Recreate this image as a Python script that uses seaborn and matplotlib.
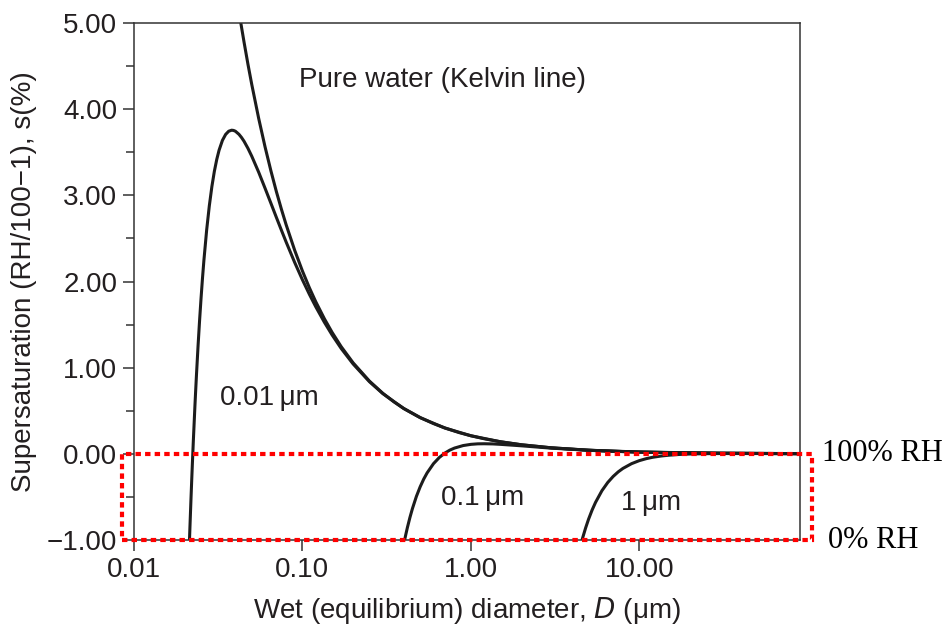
import matplotlib
matplotlib.use("Agg")
import matplotlib.pyplot as plt
import seaborn as sns
import pandas as pd
from matplotlib.patches import Rectangle
from matplotlib.transforms import blended_transform_factory
from matplotlib.ticker import NullLocator, FixedLocator, MultipleLocator

# ---- data (diameter in um, supersaturation in %) ----
kelvin_d = [0.042, 0.045, 0.0475, 0.05, 0.055, 0.06, 0.065, 0.07, 0.075, 0.08, 0.09,
            0.1, 0.11, 0.12, 0.135, 0.15, 0.17, 0.2, 0.25, 0.3, 0.35, 0.4, 0.5, 0.6,
            0.7, 0.85, 1.0, 1.2, 1.5, 2.0, 3.0, 5.0, 7.0, 10.0, 14.0, 20.0, 30.0, 50.0, 90.0]
kelvin_s = [5.127, 4.78, 4.520, 4.289, 3.892, 3.562, 3.284, 3.045, 2.840, 2.660, 2.361,
            2.122, 1.927, 1.765, 1.568, 1.410, 1.243, 1.056, 0.844, 0.703, 0.602, 0.526,
            0.421, 0.351, 0.301, 0.247, 0.210, 0.175, 0.140, 0.105, 0.070, 0.042, 0.030,
            0.021, 0.015, 0.0105, 0.007, 0.0042, 0.0023]

d001_d = [0.021, 0.0212, 0.0215, 0.0218, 0.022, 0.0222, 0.0225, 0.023, 0.0232, 0.0235,
          0.024, 0.0245, 0.025, 0.0255, 0.026, 0.027, 0.028, 0.029, 0.03, 0.031, 0.032,
          0.0335, 0.035, 0.0365, 0.038, 0.039, 0.04, 0.042, 0.0435, 0.045, 0.0475, 0.05,
          0.055, 0.06, 0.065, 0.07, 0.075, 0.08, 0.09, 0.1, 0.11, 0.12, 0.135, 0.15, 0.17,
          0.2, 0.25, 0.3, 0.4, 0.5, 0.7, 1.0, 1.5, 2.0, 3.0, 5.0, 10.0, 30.0, 90.0]
d001_s = [-1.417, -1.175, -0.834, -0.516, -0.316, -0.126, 0.145, 0.556, 0.707, 0.922,
          1.249, 1.541, 1.802, 2.036, 2.244, 2.597, 2.878, 3.102, 3.279, 3.417, 3.524,
          3.638, 3.707, 3.744, 3.756, 3.753, 3.744, 3.708, 3.671, 3.628, 3.545, 3.455,
          3.268, 3.082, 2.908, 2.745, 2.596, 2.459, 2.220, 2.020, 1.851, 1.707, 1.527,
          1.380, 1.222, 1.043, 0.837, 0.699, 0.525, 0.420, 0.300, 0.210, 0.140, 0.105,
          0.070, 0.042, 0.021, 0.007, 0.0023]

d01_d = [0.39, 0.40, 0.41, 0.42, 0.435, 0.45, 0.475, 0.5, 0.525, 0.55, 0.6, 0.65, 0.7,
         0.75, 0.8, 0.9, 1.0, 1.1, 1.2, 1.35, 1.5, 1.75, 2.0, 2.5, 3.0, 5.0, 7.0, 10.0,
         30.0, 90.0]
d01_s = [-1.155, -1.044, -0.945, -0.855, -0.737, -0.635, -0.494, -0.383, -0.293, -0.221,
         -0.114, -0.042, 0.008, 0.043, 0.067, 0.096, 0.110, 0.116, 0.117, 0.115, 0.110,
         0.101, 0.093, 0.078, 0.066, 0.041, 0.0297, 0.020, 0.007, 0.0023]

d1_d = [4.5, 4.6, 4.8, 5.0, 5.25, 5.5, 6.0, 6.5, 7.0, 7.5, 8.0, 9.0, 10.0, 11.0, 12.0,
        13.5, 15.0, 17.0, 20.0, 25.0, 30.0, 50.0, 90.0]
d1_s = [-1.051, -0.982, -0.861, -0.758, -0.651, -0.563, -0.428, -0.332, -0.262, -0.209,
        -0.169, -0.114, -0.079, -0.056, -0.040, -0.025, -0.016, -0.008, -0.002, 0.002,
        0.0033, 0.0034, 0.0022]

x_ticks = [0.01, 0.1, 1.0, 10.0]
x_tick_labels = ["0.01", "0.10", "1.00", "10.00"]
y_ticks = [-1, 0, 1, 2, 3, 4, 5]
y_tick_labels = ["\u22121.00", "0.00", "1.00", "2.00", "3.00", "4.00", "5.00"]

# ---- style ----
sns.set_style("ticks")
plt.rcParams["font.family"] = ["Liberation Sans", "DejaVu Sans"]
TXT = "#231f20"
FS = 20

fig = plt.figure(figsize=(9.49, 6.30), dpi=100)
ax = fig.add_axes([134 / 949, 1 - 540 / 630, 666 / 949, 517 / 630])

curves = [(kelvin_d, kelvin_s), (d001_d, d001_s), (d01_d, d01_s), (d1_d, d1_s)]
for dd, ss in curves:
    df = pd.DataFrame({"D": dd, "s": ss})
    sns.lineplot(data=df, x="D", y="s", ax=ax, color="#1c1c1c", lw=2.2,
                 estimator=None, sort=True, legend=False)

ax.set_xscale("log")
ax.set_xlim(0.01, 90)
ax.set_ylim(-1, 5)
ax.xaxis.set_major_locator(FixedLocator(x_ticks))
ax.xaxis.set_minor_locator(NullLocator())
ax.set_xticklabels(x_tick_labels)
ax.yaxis.set_major_locator(FixedLocator(y_ticks))
ax.set_yticklabels(y_tick_labels)
ax.yaxis.set_minor_locator(MultipleLocator(0.5))

ax.tick_params(axis="both", which="major", direction="out", length=8, width=1.1,
               color="#333333", labelsize=FS, labelcolor=TXT, pad=4)
ax.tick_params(axis="y", which="minor", direction="out", length=5.5, width=1.1,
               color="#333333")
for sp in ax.spines.values():
    sp.set_visible(True)
    sp.set_linewidth(1.1)
    sp.set_color("#333333")

ax.set_xlabel("Wet (equilibrium) diameter, $\\mathit{D}$ (\u03bcm)", fontsize=FS,
              color=TXT, labelpad=9)
ax.set_ylabel("Supersaturation (RH/100\u22121), s(%)", fontsize=FS, color=TXT,
              labelpad=7)

ax.text(0.096, 4.34, "Pure water (Kelvin line)", fontsize=FS, color=TXT,
        ha="left", va="center")
ax.text(0.0323, 0.65, "0.01\u2009\u03bcm", fontsize=FS, color=TXT, ha="left", va="center")
ax.text(0.665, -0.51, "0.1\u2009\u03bcm", fontsize=FS, color=TXT, ha="left", va="center")
ax.text(7.8, -0.57, "1\u2009\u03bcm", fontsize=FS, color=TXT, ha="left", va="center")

trans = blended_transform_factory(ax.transAxes, ax.transData)
rect = Rectangle((-0.018, -1.0), 1.036, 1.0, fill=False, edgecolor="#ff0000",
                 lw=3.0, linestyle=(0, (1.3, 1.0)), transform=trans,
                 clip_on=False, zorder=6)
ax.add_patch(rect)

ax.text(1.033, 0.0, "100% RH", transform=trans, fontsize=22, family="Liberation Serif",
        color="black", ha="left", va="center")
ax.text(1.042, -1.0, "0% RH", transform=trans, fontsize=22, family="Liberation Serif",
        color="black", ha="left", va="center")

fig.savefig("out.png", dpi=100)
